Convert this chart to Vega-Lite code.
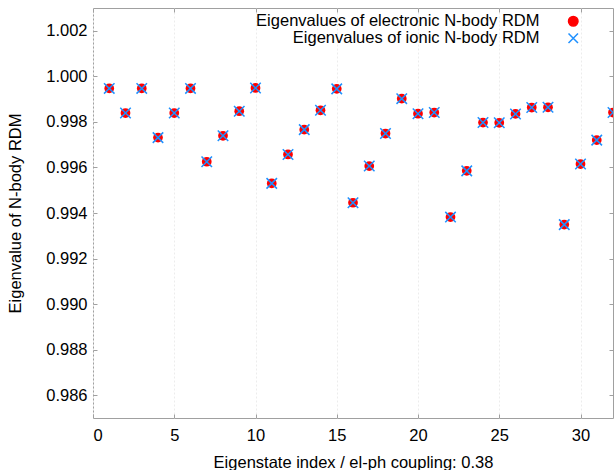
{
  "$schema": "https://vega.github.io/schema/vega-lite/v6.json",
  "width": 520,
  "height": 410,
  "autosize": {"type": "none"},
  "padding": {"left": 93, "top": 8, "right": 3, "bottom": 52},
  "background": "white",
  "config": {
    "view": {"stroke": "#a0a0a0", "strokeWidth": 1},
    "font": "Liberation Sans",
    "axis": {
      "labelFont": "Liberation Sans",
      "titleFont": "Liberation Sans",
      "labelFontSize": 16.5,
      "titleFontSize": 16.5,
      "titleFontWeight": "normal",
      "labelColor": "#000000",
      "titleColor": "#000000",
      "domain": false,
      "tickColor": "#a0a0a0",
      "tickSize": -4
    },
    "legend": {
      "labelFont": "Liberation Sans",
      "labelFontSize": 16.5,
      "labelColor": "#000000",
      "labelLimit": 0
    }
  },
  "data": {
    "values": [
      {"i": 1, "electronic": 0.99947, "ionic": 0.99947},
      {"i": 2, "electronic": 0.99839, "ionic": 0.99839},
      {"i": 3, "electronic": 0.99947, "ionic": 0.99947},
      {"i": 4, "electronic": 0.99731, "ionic": 0.99731},
      {"i": 5, "electronic": 0.99839, "ionic": 0.99839},
      {"i": 6, "electronic": 0.99947, "ionic": 0.99947},
      {"i": 7, "electronic": 0.99625, "ionic": 0.99625},
      {"i": 8, "electronic": 0.99739, "ionic": 0.99739},
      {"i": 9, "electronic": 0.99847, "ionic": 0.99847},
      {"i": 10, "electronic": 0.99949, "ionic": 0.99949},
      {"i": 11, "electronic": 0.9953, "ionic": 0.9953},
      {"i": 12, "electronic": 0.99657, "ionic": 0.99657},
      {"i": 13, "electronic": 0.99766, "ionic": 0.99766},
      {"i": 14, "electronic": 0.99851, "ionic": 0.99851},
      {"i": 15, "electronic": 0.99945, "ionic": 0.99945},
      {"i": 16, "electronic": 0.99445, "ionic": 0.99445},
      {"i": 17, "electronic": 0.99606, "ionic": 0.99606},
      {"i": 18, "electronic": 0.99749, "ionic": 0.99749},
      {"i": 19, "electronic": 0.99902, "ionic": 0.99902},
      {"i": 20, "electronic": 0.99836, "ionic": 0.99836},
      {"i": 21, "electronic": 0.99841, "ionic": 0.99841},
      {"i": 22, "electronic": 0.99382, "ionic": 0.99382},
      {"i": 23, "electronic": 0.99585, "ionic": 0.99585},
      {"i": 24, "electronic": 0.99797, "ionic": 0.99797},
      {"i": 25, "electronic": 0.99796, "ionic": 0.99796},
      {"i": 26, "electronic": 0.99835, "ionic": 0.99835},
      {"i": 27, "electronic": 0.99863, "ionic": 0.99863},
      {"i": 28, "electronic": 0.99864, "ionic": 0.99864},
      {"i": 29, "electronic": 0.99349, "ionic": 0.99349},
      {"i": 30, "electronic": 0.99615, "ionic": 0.99615},
      {"i": 31, "electronic": 0.9972, "ionic": 0.9972},
      {"i": 32, "electronic": 0.99841, "ionic": 0.99841}
    ]
  },
  "layer": [
    {
      "mark": {"type": "point", "filled": true, "size": 95, "opacity": 1, "clip": true},
      "encoding": {
        "x": {
          "field": "i", "type": "quantitative",
          "scale": {"domain": [0, 32], "nice": false, "zero": false},
          "axis": {
            "orient": "bottom",
            "values": [0, 5, 10, 15, 20, 25, 30],
            "format": "d",
            "title": "Eigenstate index / el-ph coupling: 0.38",
            "grid": true,
            "gridColor": "#ececec",
            "gridDash": [2, 2],
            "labelPadding": 13,
            "titleBaseline": "middle",
            "titleY": 44
          }
        },
        "y": {
          "field": "electronic", "type": "quantitative",
          "scale": {"domain": [0.985, 1.003], "nice": false, "zero": false},
          "axis": {
            "orient": "left",
            "values": [0.986, 0.988, 0.99, 0.992, 0.994, 0.996, 0.998, 1.0, 1.002],
            "format": ".3f",
            "title": "Eigenvalue of N-body RDM",
            "grid": false,
            "labelPadding": 10,
            "titleBaseline": "middle",
            "titleX": -78
          }
        },
        "color": {
          "datum": "Eigenvalues of electronic N-body RDM", "type": "nominal",
          "scale": {"domain": ["Eigenvalues of electronic N-body RDM", "Eigenvalues of ionic N-body RDM"], "range": ["#ff0000", "#1e90ff"]},
          "legend": {
            "title": null, "orient": "none", "legendX": 472, "legendY": 5,
            "labelAlign": "right", "labelOffset": -42, "rowPadding": 0, "labelLimit": 0,
            "symbolSize": 90, "symbolStrokeWidth": 1.5,
            "encode": {"symbols": {"update": {
              "fill": {"signal": "datum.value === 'Eigenvalues of ionic N-body RDM' ? 'transparent' : '#ff0000'"},
              "stroke": {"signal": "datum.value === 'Eigenvalues of ionic N-body RDM' ? '#1e90ff' : 'transparent'"},
              "opacity": {"value": 1}
            }}}
          }
        },
        "shape": {
          "datum": "Eigenvalues of electronic N-body RDM", "type": "nominal",
          "scale": {"domain": ["Eigenvalues of electronic N-body RDM", "Eigenvalues of ionic N-body RDM"], "range": ["circle", "M-1,-1L1,1M-1,1L1,-1"]},
          "legend": {
            "title": null, "orient": "none", "legendX": 472, "legendY": 5,
            "labelAlign": "right", "labelOffset": -42, "rowPadding": 0, "labelLimit": 0,
            "symbolSize": 90, "symbolStrokeWidth": 1.5,
            "encode": {"symbols": {"update": {
              "fill": {"signal": "datum.value === 'Eigenvalues of ionic N-body RDM' ? 'transparent' : '#ff0000'"},
              "stroke": {"signal": "datum.value === 'Eigenvalues of ionic N-body RDM' ? '#1e90ff' : 'transparent'"},
              "opacity": {"value": 1}
            }}}
          }
        }
      }
    },
    {
      "mark": {"type": "point", "filled": false, "size": 110, "strokeWidth": 1.5, "opacity": 1, "clip": true},
      "encoding": {
        "x": {
          "field": "i", "type": "quantitative",
          "axis": {"orient": "top", "values": [0, 5, 10, 15, 20, 25, 30], "labels": false, "title": null, "grid": false}
        },
        "y": {
          "field": "ionic", "type": "quantitative",
          "axis": {"orient": "right", "values": [0.986, 0.988, 0.99, 0.992, 0.994, 0.996, 0.998, 1.0, 1.002], "labels": false, "title": null, "grid": false}
        },
        "color": {"datum": "Eigenvalues of ionic N-body RDM", "type": "nominal"},
        "shape": {"datum": "Eigenvalues of ionic N-body RDM", "type": "nominal"}
      }
    }
  ],
  "resolve": {"axis": {"x": "independent", "y": "independent"}}
}
